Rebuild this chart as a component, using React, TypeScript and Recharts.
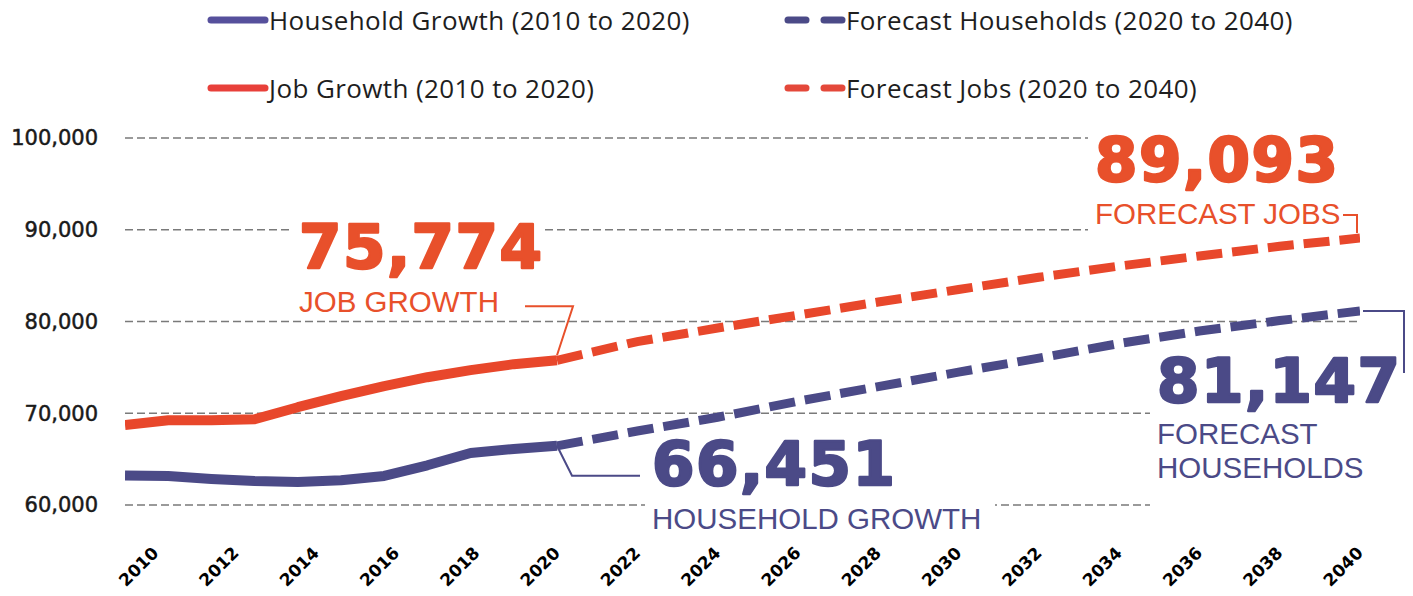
import React from 'react';
import { LineChart, Line, XAxis, YAxis, CartesianGrid, ReferenceDot } from 'recharts';

// ---- data ----
const historicYears = [2010, 2011, 2012, 2013, 2014, 2015, 2016, 2017, 2018, 2019, 2020];
const householdHistoric = [63220, 63150, 62830, 62610, 62500, 62690, 63170, 64330, 65670, 66110, 66451];
const jobsHistoric = [68720, 69230, 69230, 69340, 70660, 71860, 72950, 73930, 74700, 75350, 75774];

const forecastYears = [2020, 2022, 2024, 2026, 2028, 2030, 2032, 2034, 2036, 2038, 2040];
const householdForecast = [66451, 68060, 69560, 71310, 72900, 74480, 76010, 77600, 78960, 80100, 81147];
const jobsForecast = [75774, 77810, 79290, 80700, 82120, 83480, 84820, 86040, 87140, 88200, 89093];

const yTicks = [60000, 70000, 80000, 90000, 100000];
const xTicks = [2010, 2012, 2014, 2016, 2018, 2020, 2022, 2024, 2026, 2028, 2030, 2032, 2034, 2036, 2038, 2040];

const legendLabels = {
  household: 'Household Growth (2010 to 2020)',
  forecastHouseholds: 'Forecast Households (2020 to 2040)',
  jobs: 'Job Growth (2010 to 2020)',
  forecastJobs: 'Forecast Jobs (2020 to 2040)',
};

const annot = {
  jobsNow: { value: '75,774', label: ['JOB GROWTH'] },
  hhNow: { value: '66,451', label: ['HOUSEHOLD GROWTH'] },
  jobsEnd: { value: '89,093', label: ['FORECAST JOBS'] },
  hhEnd: { value: '81,147', label: ['FORECAST', 'HOUSEHOLDS'] },
};

const historicData = historicYears.map((year, i) => ({
  year,
  households: householdHistoric[i],
  jobs: jobsHistoric[i],
}));
const forecastData = forecastYears.map((year, i) => ({
  year,
  households: householdForecast[i],
  jobs: jobsForecast[i],
}));

// ---- styles ----
const ORANGE = '#E8502B';
const RED_LINE = '#E8472B';
const NAVY = '#4B4A87';
const BIG_FONT = '"DejaVu Sans", sans-serif';
const NOTE_FONT = '"Liberation Sans", Arial, sans-serif';
const LABEL_FONT = '"Open Sans", sans-serif';

const bigStyle = (color: string) => ({
  fontFamily: BIG_FONT,
  fontWeight: 'bold' as const,
  fontSize: 61,
  letterSpacing: 1.5,
  fill: color,
  stroke: color,
  strokeWidth: 2.5,
  strokeLinejoin: 'round' as const,
});
const smallStyle = (color: string) => ({
  fontFamily: NOTE_FONT,
  fontWeight: 400,
  fontSize: 29.5,
  letterSpacing: 0,
  fill: color,
  stroke: 'none',
});

// One text element per annotation: big number line followed by label lines.
const NoteText = ({ x, y, color, value, lines, gaps }: any) => (
  <text x={x} y={y}>
    <tspan x={x} y={y} style={bigStyle(color)}>{value}</tspan>
    {lines.map((l: string, i: number) => (
      <tspan key={i} x={x} y={y + gaps[i]} style={smallStyle(color)}>{l}</tspan>
    ))}
  </text>
);

const XTick = (props: any) => {
  const { x, y, payload } = props;
  const ex = x + 4;
  const ey = y + 49;
  return (
    <text
      x={ex}
      y={ey}
      transform={`rotate(-45 ${ex} ${ey})`}
      textAnchor="end"
      fontFamily={BIG_FONT}
      fontWeight="bold"
      fontSize={17}
      fill="#000"
    >
      {payload.value}
    </text>
  );
};

const JobsEndNote = (p: any) => {
  const { cx, cy } = p;
  return (
    <g>
      <rect x={cx - 272} y={cy - 119} width={325} height={113} fill="#fff" />
      <NoteText x={cx - 265} y={cy - 57} color={ORANGE} value={annot.jobsEnd.value} lines={annot.jobsEnd.label} gaps={[43]} />
      <polyline
        points={`${cx - 17},${cy - 23} ${cx - 3},${cy - 23} ${cx - 3},${cy - 5}`}
        fill="none"
        stroke={ORANGE}
        strokeWidth={2}
      />
    </g>
  );
};

const HhEndNote = (p: any) => {
  const { cx, cy } = p;
  return (
    <g>
      <rect x={cx - 210} y={cy + 38} width={263} height={170} fill="#fff" />
      <NoteText x={cx - 203} y={cy + 91} color={NAVY} value={annot.hhEnd.value} lines={annot.hhEnd.label} gaps={[42, 76]} />
      <polyline
        points={`${cx + 3},${cy} ${cx + 44},${cy} ${cx + 44},${cy + 62}`}
        fill="none"
        stroke={NAVY}
        strokeWidth={2}
      />
    </g>
  );
};

const JobsNowNote = (p: any) => {
  const { cx, cy } = p;
  return (
    <g>
      <rect x={cx - 267} y={cy - 145} width={255} height={101} fill="#fff" />
      <NoteText x={cx - 258} y={cy - 92} color={ORANGE} value={annot.jobsNow.value} lines={annot.jobsNow.label} gaps={[44]} />
      <polyline
        points={`${cx - 32},${cy - 54} ${cx + 16},${cy - 54} ${cx},${cy - 5}`}
        fill="none"
        stroke={ORANGE}
        strokeWidth={2}
      />
    </g>
  );
};

const HhNowNote = (p: any) => {
  const { cx, cy } = p;
  return (
    <g>
      <rect x={cx + 88} y={cy - 9} width={350} height={98} fill="#fff" />
      <NoteText x={cx + 95} y={cy + 39} color={NAVY} value={annot.hhNow.value} lines={annot.hhNow.label} gaps={[44]} />
      <polyline
        points={`${cx},${cy} ${cx + 15},${cy + 30} ${cx + 83},${cy + 30}`}
        fill="none"
        stroke={NAVY}
        strokeWidth={2}
      />
    </g>
  );
};

const LegendItem = ({ left, top, color, dashed, text }: any) => (
  <div style={{ position: 'absolute', left, top, height: 30, display: 'flex', alignItems: 'center' }}>
    <svg width={62} height={14} style={{ display: 'block' }}>
      {dashed ? (
        <g stroke={color} strokeWidth={7} strokeLinecap="round">
          <line x1={4} y1={7} x2={22} y2={7} />
          <line x1={40} y1={7} x2={58} y2={7} />
        </g>
      ) : (
        <line x1={4} y1={7} x2={58} y2={7} stroke={color} strokeWidth={7} strokeLinecap="round" />
      )}
    </svg>
    <span
      style={{
        fontFamily: LABEL_FONT,
        fontSize: 26,
        color: '#1e1e1e',
        whiteSpace: 'nowrap',
        lineHeight: '30px',
        letterSpacing: 0.4,
      }}
    >
      {text}
    </span>
  </div>
);

export default function App() {
  return (
    <div style={{ position: 'absolute', left: 0, top: 0, width: 1413, height: 596, background: '#fff' }}>
      <LineChart width={1413} height={596} margin={{ top: 138, right: 53, bottom: 0, left: 0 }}>
        <CartesianGrid vertical={false} stroke="#7a7a7a" strokeWidth={1.4} strokeDasharray="8 4" />
        <XAxis
          xAxisId={0}
          type="number"
          dataKey="year"
          domain={[2009.24, 2040]}
          ticks={xTicks}
          interval={0}
          allowDataOverflow
          height={91}
          tickLine={false}
          axisLine={false}
          tickSize={0}
          tickMargin={0}
          tick={<XTick />}
        />
        <XAxis xAxisId="hist" type="number" dataKey="year" domain={[2010, 2038.59]} allowDataOverflow hide />
        <YAxis
          type="number"
          domain={[60000, 100000]}
          ticks={yTicks}
          interval={0}
          width={125}
          tickLine={false}
          axisLine={false}
          tickSize={0}
          tickMargin={27}
          tickFormatter={(v: number) => v.toLocaleString('en-US')}
          tick={{ fontFamily: BIG_FONT, fontSize: 21, fill: '#1a1a1a', stroke: '#1a1a1a', strokeWidth: 0.5 }}
        />
        <Line
          xAxisId="hist"
          data={historicData}
          dataKey="households"
          stroke={NAVY}
          strokeWidth={10}
          dot={false}
          isAnimationActive={false}
          strokeLinejoin="round"
        />
        <Line
          xAxisId="hist"
          data={historicData}
          dataKey="jobs"
          stroke={RED_LINE}
          strokeWidth={10}
          dot={false}
          isAnimationActive={false}
          strokeLinejoin="round"
        />
        <Line
          xAxisId={0}
          data={forecastData}
          dataKey="households"
          stroke={NAVY}
          strokeWidth={9}
          strokeDasharray="26 10"
          dot={false}
          isAnimationActive={false}
        />
        <Line
          xAxisId={0}
          data={forecastData}
          dataKey="jobs"
          stroke={RED_LINE}
          strokeWidth={9}
          strokeDasharray="26 10"
          dot={false}
          isAnimationActive={false}
        />
        <ReferenceDot xAxisId={0} x={2040} y={jobsForecast[jobsForecast.length - 1]} ifOverflow="visible" shape={<JobsEndNote />} />
        <ReferenceDot xAxisId={0} x={2040} y={householdForecast[householdForecast.length - 1]} ifOverflow="visible" shape={<HhEndNote />} />
        <ReferenceDot xAxisId={0} x={2020} y={jobsHistoric[jobsHistoric.length - 1]} ifOverflow="visible" shape={<JobsNowNote />} />
        <ReferenceDot xAxisId={0} x={2020} y={householdHistoric[householdHistoric.length - 1]} ifOverflow="visible" shape={<HhNowNote />} />
      </LineChart>
      <LegendItem left={207} top={5} color="#56509C" text={legendLabels.household} />
      <LegendItem left={784} top={5} color={NAVY} dashed text={legendLabels.forecastHouseholds} />
      <LegendItem left={207} top={73} color="#E8403A" text={legendLabels.jobs} />
      <LegendItem left={784} top={73} color="#E4483A" dashed text={legendLabels.forecastJobs} />
    </div>
  );
}
